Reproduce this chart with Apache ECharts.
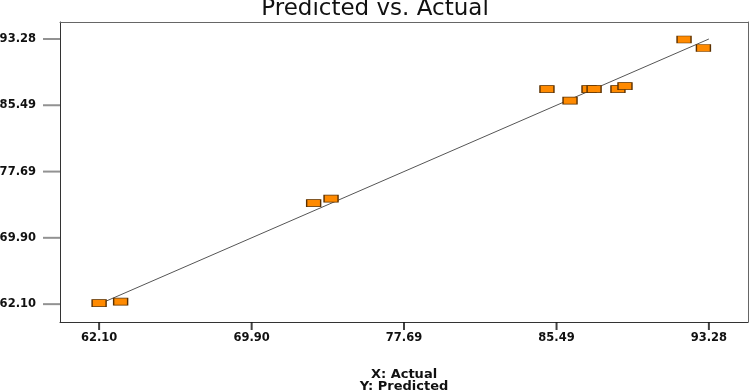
<!DOCTYPE html>
<html>
<head>
<meta charset="utf-8">
<title>Predicted vs. Actual</title>
<script src="https://cdn.jsdelivr.net/npm/echarts@6/dist/echarts.min.js"></script>
<style>
  html, body { margin: 0; padding: 0; background: #fff; }
  #chart { width: 750px; height: 391px; }
</style>
</head>
<body>
<div id="chart"></div>
<script>
// actual (x) / predicted (y) pairs
var actualVals = [62.10, 63.20, 73.07, 73.96, 85.00, 86.18, 87.15, 87.41, 88.63, 88.99, 92.01, 93.00];
var predictedVals = [62.22, 62.39, 73.98, 74.51, 87.39, 86.04, 87.39, 87.39, 87.39, 87.75, 93.22, 92.22];
// y = x reference line
var fitX = [62.10, 93.28];
var fitY = [62.10, 93.28];
var tickVals = [62.10, 69.90, 77.69, 85.49, 93.28];

var xMin = 60.1, xMax = 95.28;
var yMin = 60.0, yMax = 95.28;

var points = actualVals.map(function (v, i) { return [v, predictedVals[i]]; });
var fitLine = fitX.map(function (v, i) { return [v, fitY[i]]; });
// tick marks as thin symbols placed on the axis lines
var yTicks = tickVals.map(function (v) { return [xMin, v]; });
var xTicks = tickVals.map(function (v) { return [v, yMin]; });

var labelStyle = {
  fontFamily: 'DejaVu Sans',
  fontWeight: 'bold',
  fontSize: 11.5,
  color: '#111'
};

// top / right frame lines, just bare axis lines
var frameAxis = {
  type: 'value',
  splitLine: { show: false },
  axisTick: { show: false },
  axisLabel: { show: false },
  axisLine: { show: true, onZero: false, lineStyle: { color: '#666', width: 1 } }
};

var chart = echarts.init(document.getElementById('chart'));
chart.setOption({
  animation: false,
  title: {
    text: 'Predicted vs. Actual',
    left: 'center',
    top: -7,
    textStyle: {
      fontFamily: 'DejaVu Sans',
      fontWeight: 'normal',
      fontSize: 23,
      color: '#111'
    }
  },
  grid: {
    left: 60,
    top: 22,
    right: 2,
    bottom: 69,
    outerBoundsMode: 'none'
  },
  xAxis: [{
    type: 'value',
    min: xMin,
    max: xMax,
    name: 'X: Actual\nY: Predicted',
    nameLocation: 'middle',
    nameGap: 47,
    nameTextStyle: {
      fontFamily: 'DejaVu Sans',
      fontWeight: 'bold',
      fontSize: 13,
      lineHeight: 12,
      color: '#111'
    },
    splitLine: { show: false },
    axisLine: { show: true, onZero: false, lineStyle: { color: '#333', width: 1 } },
    axisTick: { show: false },
    axisLabel: Object.assign({
      customValues: tickVals,
      margin: 10,
      formatter: function (v) { return v.toFixed(2); }
    }, labelStyle)
  }, Object.assign({ position: 'top', min: xMin, max: xMax }, frameAxis)],
  yAxis: [{
    type: 'value',
    min: yMin,
    max: yMax,
    splitLine: { show: false },
    axisLine: { show: true, onZero: false, lineStyle: { color: '#333', width: 1 } },
    axisTick: { show: false },
    axisLabel: Object.assign({
      customValues: tickVals,
      margin: 24,
      formatter: function (v) { return v.toFixed(2); }
    }, labelStyle)
  }, Object.assign({ position: 'right', min: yMin, max: yMax }, frameAxis)],
  series: [
    {
      type: 'line',
      data: fitLine,
      symbol: 'none',
      silent: true,
      lineStyle: { color: '#555', width: 1 },
      z: 1
    },
    {
      type: 'scatter',
      data: points,
      symbol: 'rect',
      symbolSize: [14, 7],
      itemStyle: {
        color: '#ff8a00',
        borderColor: '#5a3000',
        borderWidth: 1,
        opacity: 1
      },
      z: 2
    },
    {
      type: 'scatter',
      data: yTicks,
      symbol: 'rect',
      symbolSize: [17, 2],
      symbolOffset: [-8.5, 0],
      clip: false,
      itemStyle: { color: '#777' },
      z: 3
    },
    {
      type: 'scatter',
      data: xTicks,
      symbol: 'rect',
      symbolSize: [2, 8],
      symbolOffset: [0, 4],
      clip: false,
      itemStyle: { color: '#111' },
      z: 3
    }
  ]
});
</script>
</body>
</html>
